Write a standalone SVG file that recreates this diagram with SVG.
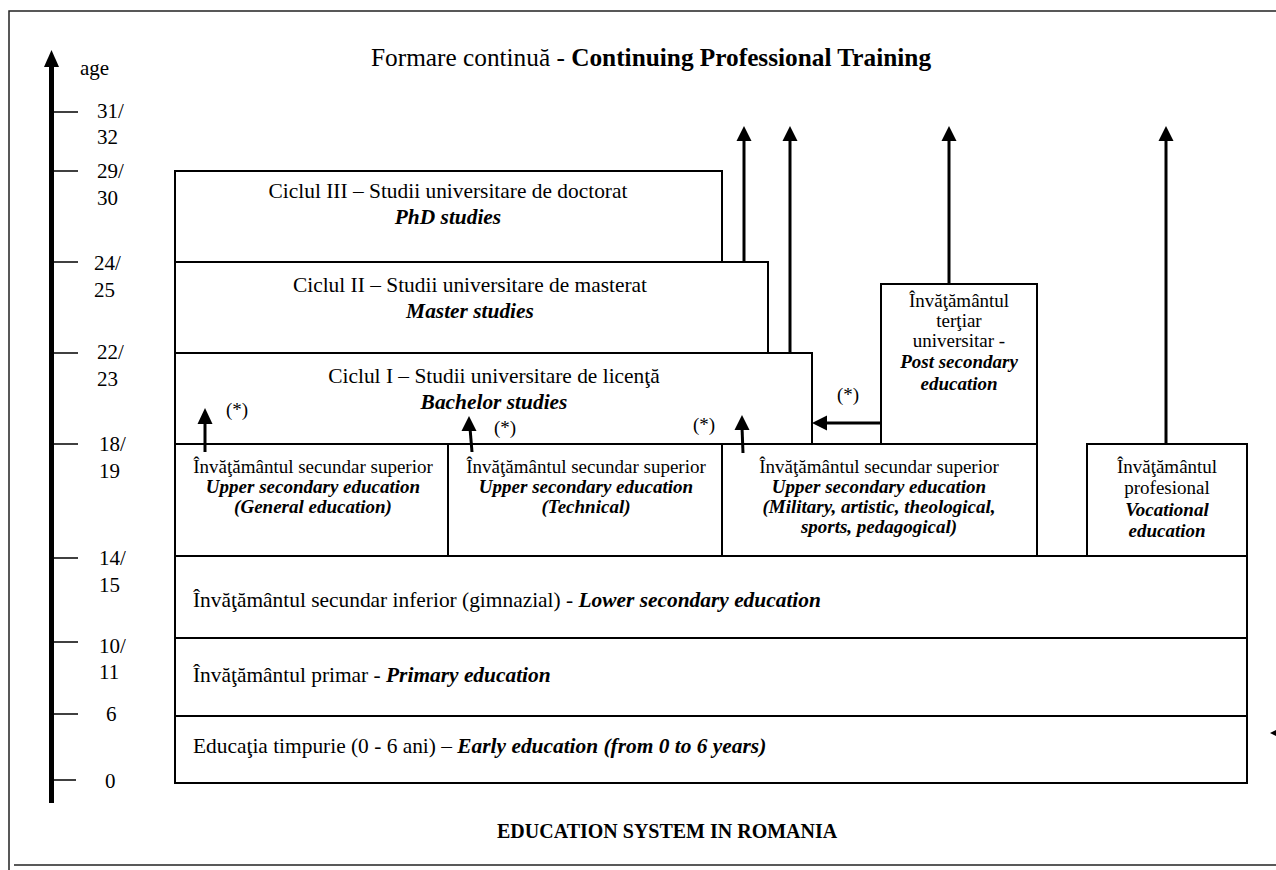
<svg xmlns="http://www.w3.org/2000/svg" width="1276" height="870" viewBox="0 0 1276 870">
<style>
text{font-family:"Liberation Serif","Times New Roman",serif;fill:#000}
.big{font-size:21.4px}
.sm{font-size:19px}
.ax{font-size:21px}
.bi{font-weight:bold;font-style:italic}
.b{font-weight:bold}
.box{fill:#fff;stroke:#000;stroke-width:2}
.con{stroke:#000;stroke-width:3;fill:none}
.tick{stroke:#000;stroke-width:1.5}
.frame{stroke:#222;stroke-width:1.5;fill:none}
</style>
<rect width="1276" height="870" fill="#fff"/>
<g id="frame">
<path class="frame" d="M9,870 V11 H1276"/>
<path class="frame" d="M14,865 H1276"/>
</g>
<g id="axis">
<line x1="51.5" y1="803" x2="51.5" y2="62" stroke="#000" stroke-width="5"/>
<polygon points="51.5,50 44,67 59,67" fill="#000"/>
<g class="tick">
<line x1="54" y1="112" x2="78" y2="112"/>
<line x1="54" y1="171" x2="78" y2="171"/>
<line x1="54" y1="262" x2="78" y2="262"/>
<line x1="54" y1="353" x2="78" y2="353"/>
<line x1="54" y1="444" x2="78" y2="444"/>
<line x1="54" y1="558" x2="78" y2="558"/>
<line x1="54" y1="642" x2="78" y2="642"/>
<line x1="54" y1="714" x2="78" y2="714"/>
<line x1="54" y1="780" x2="76" y2="780"/>
</g>
<text class="ax" x="80" y="75">age</text>
<text class="ax" x="97" y="118">31/</text>
<text class="ax" x="97" y="144">32</text>
<text class="ax" x="97" y="178">29/</text>
<text class="ax" x="97" y="205">30</text>
<text class="ax" x="94" y="270">24/</text>
<text class="ax" x="94" y="297">25</text>
<text class="ax" x="97" y="359">22/</text>
<text class="ax" x="97" y="386">23</text>
<text class="ax" x="99" y="451">18/</text>
<text class="ax" x="99" y="478">19</text>
<text class="ax" x="99" y="565">14/</text>
<text class="ax" x="99" y="592">15</text>
<text class="ax" x="99" y="653">10/</text>
<text class="ax" x="99" y="679">11</text>
<text class="ax" x="106" y="721">6</text>
<text class="ax" x="105" y="788">0</text>
</g>
<g id="title">
<text x="371" y="66" style="font-size:25.3px">Formare continuă - <tspan class="b">Continuing Professional Training</tspan></text>
</g>
<g id="phd">
<rect class="box" x="175" y="171" width="547" height="91"/>
<text class="big" x="448" y="198" text-anchor="middle">Ciclul III – Studii universitare de doctorat</text>
<text class="big bi" x="448" y="224" text-anchor="middle">PhD studies</text>
</g>
<g id="master">
<rect class="box" x="175" y="262" width="593" height="91"/>
<text class="big" x="470" y="292" text-anchor="middle">Ciclul II – Studii universitare de masterat</text>
<text class="big bi" x="470" y="318" text-anchor="middle">Master studies</text>
</g>
<g id="bachelor">
<rect class="box" x="175" y="353" width="637" height="91"/>
<text class="big" x="494" y="383" text-anchor="middle">Ciclul I – Studii universitare de licenţă</text>
<text class="big bi" x="494" y="409" text-anchor="middle">Bachelor studies</text>
</g>
<g id="tertiary">
<rect class="box" x="881" y="284" width="156" height="160"/>
<text class="sm" x="959" y="307" text-anchor="middle">Învăţământul</text>
<text class="sm" x="959" y="327" text-anchor="middle">terţiar</text>
<text class="sm" x="959" y="347" text-anchor="middle">universitar -</text>
<text class="sm bi" x="959" y="368" text-anchor="middle">Post secondary</text>
<text class="sm bi" x="959" y="390" text-anchor="middle">education</text>
</g>
<g id="upper-general">
<rect class="box" x="175" y="444" width="273" height="112"/>
<text class="sm" x="313" y="473" text-anchor="middle">Învăţământul secundar superior</text>
<text class="sm bi" x="313" y="493" text-anchor="middle">Upper secondary education</text>
<text class="sm bi" x="313" y="513" text-anchor="middle">(General education)</text>
</g>
<g id="upper-technical">
<rect class="box" x="448" y="444" width="274" height="112"/>
<text class="sm" x="586" y="473" text-anchor="middle">Învăţământul secundar superior</text>
<text class="sm bi" x="586" y="493" text-anchor="middle">Upper secondary education</text>
<text class="sm bi" x="586" y="513" text-anchor="middle">(Technical)</text>
</g>
<g id="upper-other">
<rect class="box" x="722" y="444" width="315" height="112"/>
<text class="sm" x="879" y="473" text-anchor="middle">Învăţământul secundar superior</text>
<text class="sm bi" x="879" y="493" text-anchor="middle">Upper secondary education</text>
<text class="sm bi" x="879" y="513" text-anchor="middle">(Military, artistic, theological,</text>
<text class="sm bi" x="879" y="533" text-anchor="middle">sports, pedagogical)</text>
</g>
<g id="vocational">
<rect class="box" x="1087" y="444" width="160" height="112"/>
<text class="sm" x="1167" y="473" text-anchor="middle">Învăţământul</text>
<text class="sm" x="1167" y="494" text-anchor="middle">profesional</text>
<text class="sm bi" x="1167" y="516" text-anchor="middle">Vocational</text>
<text class="sm bi" x="1167" y="537" text-anchor="middle">education</text>
</g>
<g id="lower-secondary">
<rect class="box" x="175" y="556" width="1072" height="82"/>
<text class="big" x="193" y="607">Învăţământul secundar inferior (gimnazial) - <tspan class="bi">Lower secondary education</tspan></text>
</g>
<g id="primary">
<rect class="box" x="175" y="638" width="1072" height="78"/>
<text class="big" x="193" y="682">Învăţământul primar - <tspan class="bi">Primary education</tspan></text>
</g>
<g id="early">
<rect class="box" x="175" y="716" width="1072" height="67"/>
<text class="big" x="193" y="753">Educaţia timpurie (0 - 6 ani) – <tspan class="bi">Early education (from 0 to 6 years)</tspan></text>
</g>
<g id="footer">
<text class="b" x="497" y="838" style="font-size:20px">EDUCATION SYSTEM IN ROMANIA</text>
</g>
<g id="connectors">
<line class="con" x1="744" y1="262" x2="744" y2="140"/>
<polygon points="744,126 736.5,141 751.5,141"/>
<line class="con" x1="790" y1="353" x2="790" y2="140"/>
<polygon points="790,126 782.5,141 797.5,141"/>
<line class="con" x1="949" y1="284" x2="949" y2="140"/>
<polygon points="949,126 941.5,141 956.5,141"/>
<line class="con" x1="1166" y1="444" x2="1166" y2="140"/>
<polygon points="1166,126 1158.5,141 1173.5,141"/>
<line class="con" x1="205" y1="452" x2="205" y2="420"/>
<polygon points="205,408 197.5,424 212.5,424"/>
<line class="con" x1="472" y1="452" x2="470" y2="428"/>
<polygon points="469,416 461.5,431 476.5,431"/>
<line class="con" x1="743" y1="453" x2="742" y2="427"/>
<polygon points="742,415 734.5,430 749.5,430"/>
<line class="con" x1="881" y1="423" x2="824" y2="423"/>
<polygon points="812,423 827,415.5 827,430.5"/>
<polygon points="1270,733 1282,727 1282,739"/>
<text class="sm" x="226" y="416">(*)</text>
<text class="sm" x="494" y="434">(*)</text>
<text class="sm" x="693" y="431">(*)</text>
<text class="sm" x="837" y="401">(*)</text>
</g>
</svg>
